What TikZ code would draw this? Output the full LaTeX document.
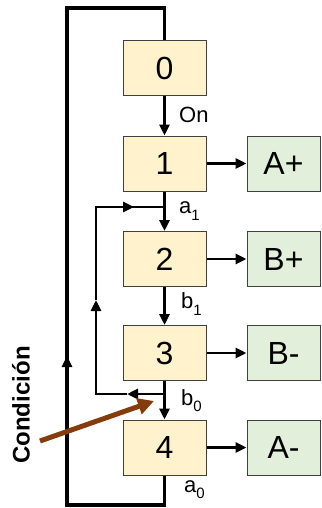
\documentclass[tikz,border=0pt]{standalone}
\usepackage{fontspec}
\setmainfont{Liberation Sans}
\usetikzlibrary{arrows.meta}

\definecolor{estado}{RGB}{255,242,204}
\definecolor{accion}{RGB}{226,239,218}
\definecolor{flecha}{RGB}{132,60,12}

\newcommand{\sen}[2]{#1\raisebox{-0.28em}{\fontsize{15}{15}\selectfont #2}}

\tikzset{
  paso/.style={draw=black!75, line width=1pt, fill=estado, minimum width=83pt, minimum height=55pt, inner sep=0pt, font=\fontsize{32}{32}\selectfont},
  salida/.style={draw=black!75, line width=1pt, fill=accion, minimum width=73pt, minimum height=55pt, inner sep=0pt, font=\fontsize{32}{32}\selectfont},
  flujo/.style={line width=2.8pt, -{Triangle[length=11pt,width=10pt]}},
  etiqueta/.style={font=\fontsize{22}{22}\selectfont, anchor=west, inner sep=0pt}
}

\begin{document}
\begin{tikzpicture}[x=1pt, y=-1pt]

    \useasboundingbox (0,0) rectangle (321,508);

    \node [paso] (p0) at (164.5,68) {0};
    \node [paso] (p1) at (164.5,163.5) {1};
    \node [paso] (p2) at (164.5,259) {2};
    \node [paso] (p3) at (164.5,353) {3};
    \node [paso] (p4) at (164.5,447.5) {4};

    \node [salida] (sA) at (283.5,163.5) {A+};
    \node [salida] (sB) at (283.5,259) {B+};
    \node [salida] (sb) at (283.5,353) {B-};
    \node [salida] (sa) at (283.5,447.5) {A-};

    \draw [flujo] (p0) -- (p1);
    \draw [flujo] (p1) -- (p2);
    \draw [flujo] (p2) -- (p3);
    \draw [flujo] (p3) -- (p4);

    \draw [flujo] (p1) -- (sA);
    \draw [flujo] (p2) -- (sB);
    \draw [flujo] (p3) -- (sb);
    \draw [flujo] (p4) -- (sa);

    \node [etiqueta] (lOn) at (179,115) {On};
    \node [etiqueta] (la1) at (179,211) {\sen{a}{1}};
    \node [etiqueta] (lb1) at (181,304) {\sen{b}{1}};
    \node [etiqueta] (lb0) at (181,401) {\sen{b}{0}};
    \node [etiqueta] (la0) at (184,490) {\sen{a}{0}};

    % lazo interior
    \coordinate (b0) at (164.5,394);
    \coordinate (a1) at (164.5,207);
    \coordinate (izq) at (96,394);
    \draw [flujo] (b0) -- (127,394);
    \draw [line width=2.8pt] (127,394) -- (izq) -- (96,302);
    \draw [flujo] (izq) -- (96,300);
    \draw [line width=2.8pt] (96,300) |- (a1);
    \draw [flujo] (96,207) -- (134,207);

    % lazo exterior
    \coordinate (fin) at (164.5,505);
    \draw [line width=3.5pt] (p4.south) -- (fin) -| (67,358);
    \draw [flujo, line width=3pt] (67,505) -- (67,356);
    \draw [line width=3.5pt, line join=miter] (67,358) -- (67,8) -| (p0.north);

    % condicion
    \node [rotate=90, font=\fontsize{24}{24}\selectfont\bfseries] (cond) at (21,405) {Condición};
    \coordinate (cini) at (40,441);
    \coordinate (cfin) at (154,401);
    \draw [flecha, line width=5pt, -{Triangle[length=16pt,width=16pt]}] (cini) -- (cfin);

\end{tikzpicture}
\end{document}
